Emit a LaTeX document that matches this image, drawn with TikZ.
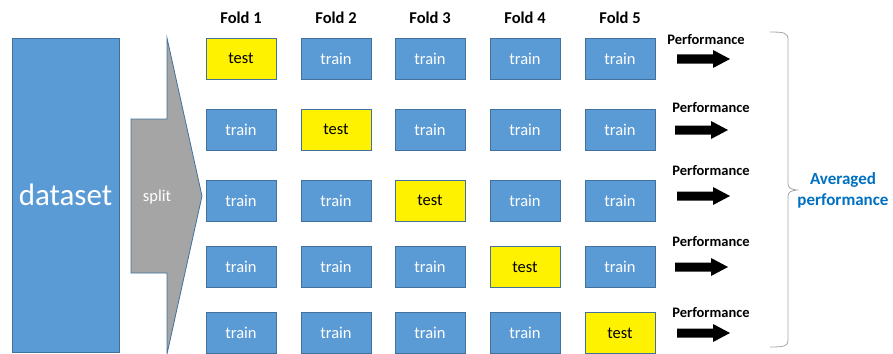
\documentclass[tikz,border=0pt]{standalone}
\usepackage{fontspec}
\setmainfont{Carlito}
\begin{document}
\definecolor{boxblue}{HTML}{5B9BD5}
\definecolor{edgeblue}{HTML}{41719C}
\definecolor{splitgray}{HTML}{A5A5A5}
\definecolor{avgblue}{HTML}{0070C0}
\definecolor{bracegray}{HTML}{A6A6A6}
\begin{tikzpicture}[x=1pt,y=-1pt,
  fold/.style={draw=edgeblue,line width=0.8pt,minimum width=70pt,minimum height=41pt,inner sep=0pt,
    font=\fontsize{16.5}{18}\selectfont},
  trainbox/.style={fold,fill=boxblue,text=white},
  testbox/.style={fold,fill=yellow,text=black},
  foldlabel/.style={font=\bfseries\fontsize{16.5}{18}\selectfont},
  perflabel/.style={font=\bfseries\fontsize{14.5}{16}\selectfont},
  blockarrow/.style={fill=black}]
\useasboundingbox (0,0) rectangle (893,353);

% whole data set
\node[draw=edgeblue,line width=0.8pt,fill=boxblue,minimum width=107pt,minimum height=314pt,inner sep=0pt,
  text=white,font=\fontsize{31}{34}\selectfont] (data) at (65.5,195) {dataset};

% split arrow
\draw[edgeblue,line width=0.8pt,fill=splitgray]
  (131,119) -- (167,119) -- (167,38) -- (202,196) -- (167,354) -- (167,273) -- (131,273) -- cycle;
\node[text=white,font=\fontsize{16.5}{18}\selectfont] (split) at (157,197) {split};

% fold headers
\foreach \c/\x in {1/241,2/336,3/430,4/525,5/620}
  \node[foldlabel] (h\c) at (\x,18) {Fold \c};

% grid of folds: row r has its test block in column r
\foreach \r/\y in {1/58.5,2/129.5,3/200.5,4/267,5/333}{
  \foreach \c/\x in {1/241,2/336,3/430,4/525,5/620}{
    \ifnum\r=\c
      \node[testbox] (b\r\c) at (\x,\y) {test};
    \else
      \node[trainbox] (b\r\c) at (\x,\y) {train};
    \fi
  }
}

% performance of each round
\foreach \r/\lx/\ly/\ax/\ay in {1/706/40/677/59,2/711/108/675/130,3/711/171/677/196,4/711/242/675/267,5/711/313/677/333}{
  \node[perflabel] (p\r) at (\lx,\ly) {Performance};
  \fill[blockarrow] (\ax,\ay-4.5) -- ++(36,0) -- ++(0,-4.5) -- ++(17,9) -- ++(-17,9) -- ++(0,-4.5) -- ++(-36,0) -- cycle;
}

% brace collecting the five results
\draw[bracegray,line width=0.8pt]
  (770,32) .. controls (785,32) and (788,33) .. (788,40)
  -- (788,183) .. controls (788,188) and (790,189) .. (797,190)
  .. controls (790,191) and (788,192) .. (788,197)
  -- (788,340) .. controls (788,346) and (785,347) .. (770,347);

\node[text=avgblue,font=\bfseries\fontsize{17}{21}\selectfont,align=center] (avg) at (843,190)
  {Averaged\\performance};
\end{tikzpicture}
\end{document}
